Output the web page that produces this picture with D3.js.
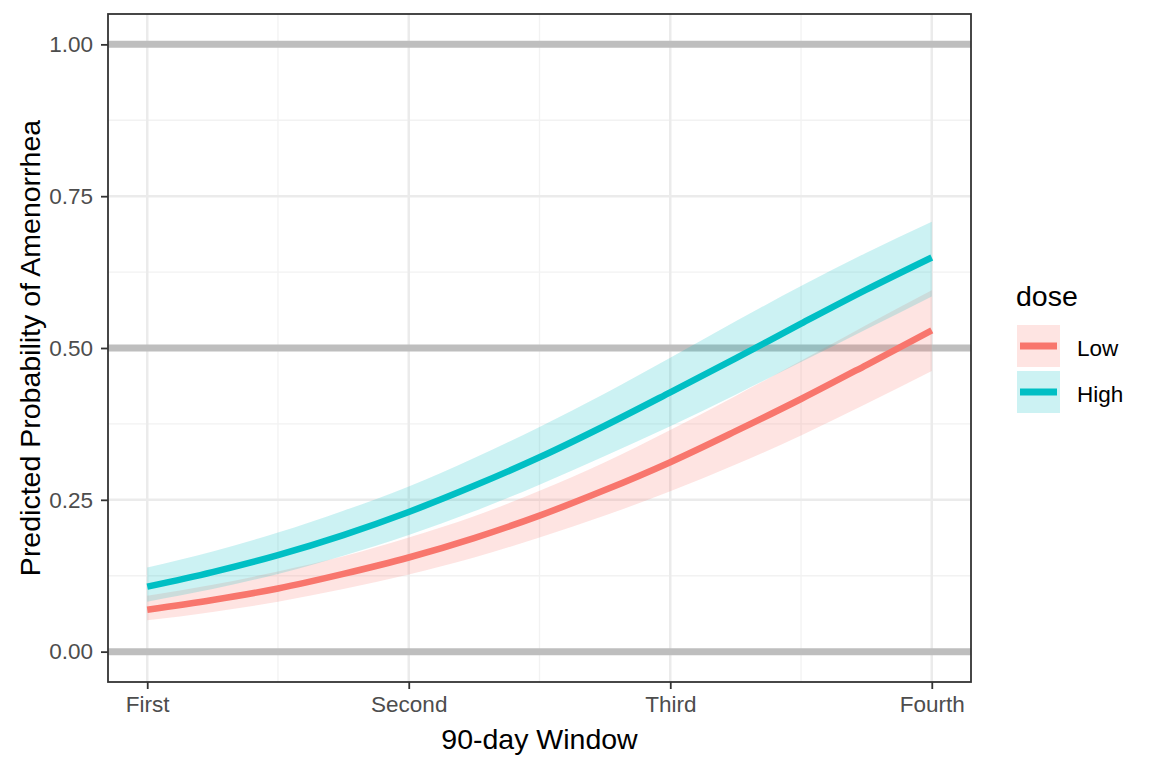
<!DOCTYPE html>
<html>
<head>
<meta charset="utf-8">
<script src="https://cdn.jsdelivr.net/npm/d3@7/dist/d3.min.js"></script>
<style>
  html, body { margin: 0; padding: 0; background: #fff; }
  svg { display: block; font-family: "Liberation Sans", Arial, sans-serif; }
</style>
</head>
<body>
<svg id="chart" width="1152" height="768"></svg>
<script>
// ---- data ----
const windowPos = [1, 1.25, 1.5, 1.75, 2, 2.25, 2.5, 2.75, 3, 3.25, 3.5, 3.75, 4];
const windowTickPos = [1, 2, 3, 4];
const windowTickLabels = ["First", "Second", "Third", "Fourth"];
const yTicks = [0, 0.25, 0.5, 0.75, 1];
const yTickLabels = ["0.00", "0.25", "0.50", "0.75", "1.00"];
const refLines = [0, 0.5, 1];
const doseLevels = ["Low", "High"];
const doseColors = ["#F8766D", "#00BFC4"];

const lowFit   = [0.069, 0.085, 0.104, 0.128, 0.155, 0.187, 0.224, 0.266, 0.312, 0.363, 0.416, 0.472, 0.529];
const lowLower = [0.0515, 0.0654, 0.0822, 0.103, 0.127, 0.155, 0.188, 0.224, 0.264, 0.308, 0.356, 0.408, 0.462];
const lowUpper = [0.0919, 0.110, 0.132, 0.157, 0.188, 0.223, 0.265, 0.312, 0.365, 0.421, 0.479, 0.538, 0.595];

const highFit   = [0.107, 0.131, 0.159, 0.192, 0.230, 0.273, 0.320, 0.372, 0.427, 0.483, 0.540, 0.596, 0.649];
const highLower = [0.0823, 0.103, 0.128, 0.158, 0.192, 0.231, 0.275, 0.322, 0.371, 0.423, 0.477, 0.531, 0.585];
const highUpper = [0.1385, 0.165, 0.196, 0.232, 0.272, 0.319, 0.370, 0.425, 0.484, 0.544, 0.602, 0.657, 0.708];

// ---- layout ----
const svg = d3.select("#chart");
const P = { left: 108, top: 14, right: 971, bottom: 682 };
const FONT = "'Liberation Sans', Arial, sans-serif";

const x = d3.scaleLinear().domain([0.85, 4.15]).range([P.left, P.right]);
const y = d3.scaleLinear().domain([-0.05, 1.05]).range([P.bottom, P.top]);

const series = [
  { name: doseLevels[0], color: doseColors[0], fit: lowFit, lo: lowLower, hi: lowUpper },
  { name: doseLevels[1], color: doseColors[1], fit: highFit, lo: highLower, hi: highUpper }
];

// panel background
svg.append("rect").attr("x", P.left).attr("y", P.top)
  .attr("width", P.right - P.left).attr("height", P.bottom - P.top).attr("fill", "#fff");

const grid = svg.append("g");
// minor grid
const xMinor = [1.5, 2.5, 3.5];
const yMinor = [0.125, 0.375, 0.625, 0.875];
grid.selectAll(".xm").data(xMinor).enter().append("line")
  .attr("x1", d => x(d)).attr("x2", d => x(d)).attr("y1", P.top).attr("y2", P.bottom)
  .attr("stroke", "#F2F2F2").attr("stroke-width", 1.3);
grid.selectAll(".ym").data(yMinor).enter().append("line")
  .attr("y1", d => y(d)).attr("y2", d => y(d)).attr("x1", P.left).attr("x2", P.right)
  .attr("stroke", "#F2F2F2").attr("stroke-width", 1.3);
// major grid
grid.selectAll(".xM").data(windowTickPos).enter().append("line")
  .attr("x1", d => x(d)).attr("x2", d => x(d)).attr("y1", P.top).attr("y2", P.bottom)
  .attr("stroke", "#EBEBEB").attr("stroke-width", 2.5);
grid.selectAll(".yM").data(yTicks).enter().append("line")
  .attr("y1", d => y(d)).attr("y2", d => y(d)).attr("x1", P.left).attr("x2", P.right)
  .attr("stroke", "#EBEBEB").attr("stroke-width", 2.5);

// reference lines
svg.append("g").selectAll("line").data(refLines).enter().append("line")
  .attr("x1", P.left).attr("x2", P.right)
  .attr("y1", d => y(d)).attr("y2", d => y(d))
  .attr("stroke", "#BEBEBE").attr("stroke-width", 7);

// ribbons
const area = d3.area()
  .x((d, i) => x(windowPos[i]))
  .y0(d => y(d[0])).y1(d => y(d[1]))
  .curve(d3.curveMonotoneX);
series.forEach(s => {
  const pts = windowPos.map((_, i) => [s.lo[i], s.hi[i]]);
  svg.append("path").attr("d", area(pts))
    .attr("fill", s.color).attr("fill-opacity", 0.2);
});

// lines
const line = d3.line()
  .x((d, i) => x(windowPos[i]))
  .y(d => y(d))
  .curve(d3.curveMonotoneX);
series.forEach(s => {
  svg.append("path").attr("d", line(s.fit))
    .attr("fill", "none").attr("stroke", s.color).attr("stroke-width", 6.5);
});

// panel border
svg.append("rect").attr("x", P.left).attr("y", P.top)
  .attr("width", P.right - P.left).attr("height", P.bottom - P.top)
  .attr("fill", "none").attr("stroke", "#333333").attr("stroke-width", 1.8);

// axes
const xAxis = d3.axisBottom(x).tickValues(windowTickPos)
  .tickFormat((d, i) => windowTickLabels[i]).tickSize(7).tickPadding(7);
const gx = svg.append("g").attr("transform", `translate(0,${P.bottom})`).call(xAxis);
gx.select(".domain").remove();
gx.selectAll(".tick line").attr("stroke", "#333333").attr("stroke-width", 1.8);
gx.selectAll(".tick text").attr("fill", "#4D4D4D").style("font-size", "22.5px")
  .style("font-family", FONT);

const yAxis = d3.axisLeft(y).tickValues(yTicks)
  .tickFormat((d, i) => yTickLabels[i]).tickSize(7).tickPadding(8);
const gy = svg.append("g").attr("transform", `translate(${P.left},0)`).call(yAxis);
gy.select(".domain").remove();
gy.selectAll(".tick line").attr("stroke", "#333333").attr("stroke-width", 1.8);
gy.selectAll(".tick text").attr("fill", "#4D4D4D").style("font-size", "22.5px")
  .style("font-family", FONT);

// axis titles
svg.append("text").attr("x", (P.left + P.right) / 2).attr("y", 749)
  .attr("text-anchor", "middle").attr("fill", "#000").style("font-size", "28.5px")
  .text("90-day Window");
svg.append("text")
  .attr("transform", `translate(40,${(P.top + P.bottom) / 2}) rotate(-90)`)
  .attr("text-anchor", "middle").attr("fill", "#000").style("font-size", "28.5px")
  .text("Predicted Probability of Amenorrhea");

// legend
const lg = svg.append("g");
lg.append("text").attr("x", 1016).attr("y", 306).attr("fill", "#000")
  .style("font-size", "28.5px").text("dose");
series.forEach((s, i) => {
  const ky = 325 + i * 46;
  lg.append("rect").attr("x", 1017).attr("y", ky).attr("width", 43).attr("height", 42)
    .attr("fill", "#fff");
  lg.append("rect").attr("x", 1017).attr("y", ky).attr("width", 43).attr("height", 42)
    .attr("fill", s.color).attr("fill-opacity", 0.2);
  lg.append("line").attr("x1", 1020).attr("x2", 1057)
    .attr("y1", ky + 21).attr("y2", ky + 21)
    .attr("stroke", s.color).attr("stroke-width", 7);
  lg.append("text").attr("x", 1077).attr("y", ky + 23).attr("dy", "0.35em")
    .attr("fill", "#000").style("font-size", "22.5px").text(s.name);
});
</script>
</body>
</html>
